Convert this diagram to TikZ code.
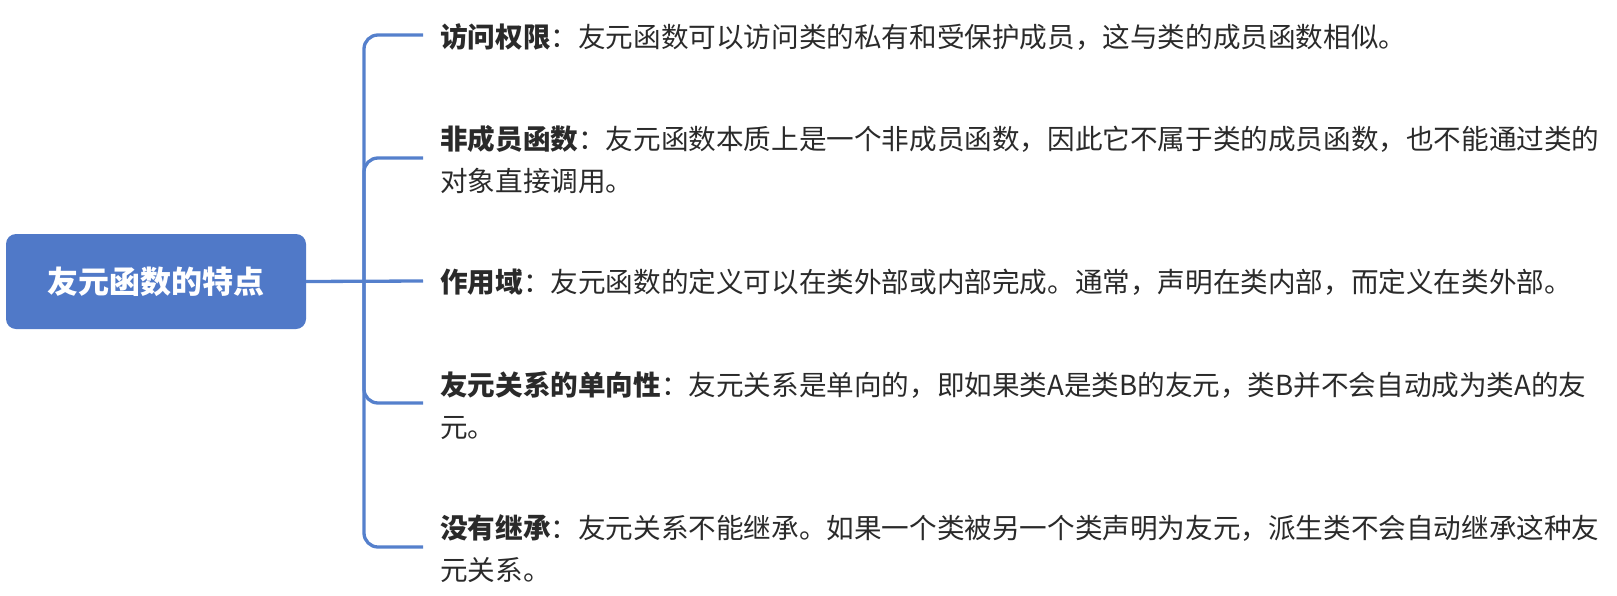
\documentclass[tikz,border=0pt]{standalone}
\usepackage{fontspec}
\setmainfont{Noto Sans CJK SC}
\definecolor{rootblue}{HTML}{5079C8}
\definecolor{lineblue}{HTML}{5580CC}
\definecolor{txt}{HTML}{2A2A2A}
\begin{document}
\begin{tikzpicture}[x=1pt,y=-1pt,
  rootbox/.style={fill=rootblue, rounded corners=10pt, minimum width=300pt, minimum height=95pt,
    text=white, font=\fontsize{31}{36}\selectfont\bfseries, inner sep=0pt},
  item/.style={anchor=west, align=left, inner sep=0pt, text=txt, font=\fontsize{27.6}{42}\selectfont},
  conn/.style={draw=lineblue, line width=3.3pt, rounded corners=14pt}]
\useasboundingbox (0,0) rectangle (1617,595);
\node[rootbox] (root) at (156,281.5) {友元函数的特点};
\coordinate (mid) at (364,281);
\coordinate (b1) at (423,35);
\coordinate (b2) at (423,158);
\coordinate (b3) at (423,281);
\coordinate (b4) at (423,403);
\coordinate (b5) at (423,547);
\node[item] (n1) at (440,37) {{\bfseries 访问权限}：友元函数可以访问类的私有和受保护成员，这与类的成员函数相似。};
\node[item] (n2) at (440,160) {{\bfseries 非成员函数}：友元函数本质上是一个非成员函数，因此它不属于类的成员函数，也不能通过类的\\对象直接调用。};
\node[item] (n3) at (440,282) {{\bfseries 作用域}：友元函数的定义可以在类外部或内部完成。通常，声明在类内部，而定义在类外部。};
\node[item] (n4) at (440,406) {{\bfseries 友元关系的单向性}：友元关系是单向的，即如果类A是类B的友元，类B并不会自动成为类A的友\\元。};
\node[item] (n5) at (440,549) {{\bfseries 没有继承}：友元关系不能继承。如果一个类被另一个类声明为友元，派生类不会自动继承这种友\\元关系。};
\draw[conn] (root.east) -- (b3);
\draw[conn] (b1) -| (mid);
\draw[conn] (b5) -| (mid);
\draw[conn] (mid) |- (b2);
\draw[conn] (mid) |- (b4);
\end{tikzpicture}
\end{document}
